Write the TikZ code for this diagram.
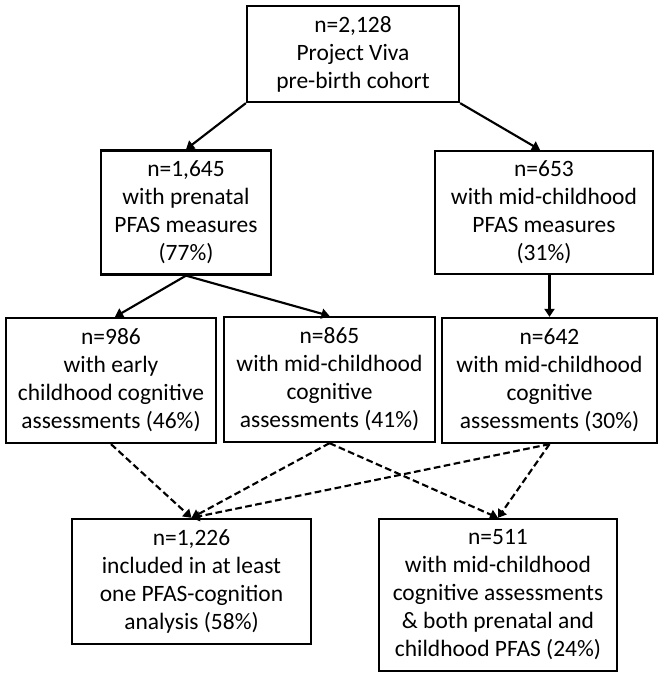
\documentclass[tikz,border=0pt]{standalone}
\usepackage{fontspec}
\setmainfont{Carlito}
\usetikzlibrary{arrows.meta,calc}
\tikzset{
  box/.style={draw=black, line width=1.7pt, inner sep=0pt, align=center,
    font=\fontsize{17.6}{21}\selectfont},
  solidarrow/.style={line width=1.6pt, -{Triangle[length=6pt,width=7.5pt]}},
  dasharrow/.style={line width=1.6pt, dash pattern=on 5pt off 2.6pt, -{Triangle[length=6pt,width=7.5pt]}}
}
\begin{document}
\begin{tikzpicture}[x=0.75pt,y=-0.75pt]
\useasboundingbox[fill=white] (0,0) rectangle (663,678);
\node[box, minimum width=159pt, minimum height=72pt] (A) at (353,54)
  {n=2,128\\Project Viva\\pre-birth cohort};
\node[box, minimum width=127.5pt, minimum height=93pt] (B) at (186,212.5)
  {n=1,645\\with prenatal\\PFAS measures\\(77\%)};
\node[box, minimum width=163.5pt, minimum height=92.25pt] (C) at (544,212.5)
  {n=653\\with mid-childhood\\PFAS measures\\(31\%)};
\node[box, minimum width=157.5pt, minimum height=93.75pt] (D) at (111,380.5)
  {n=986\\with early\\childhood cognitive\\assessments (46\%)};
\node[box, minimum width=158.25pt, minimum height=93.75pt] (E) at (329.5,379.5)
  {n=865\\with mid-childhood\\cognitive\\assessments (41\%)};
\node[box, minimum width=161.25pt, minimum height=93.75pt] (F) at (549.5,380.5)
  {n=642\\with mid-childhood\\cognitive\\assessments (30\%)};
\node[box, minimum width=179.25pt, minimum height=93.75pt] (G) at (191.5,581.5)
  {n=1,226\\included in at least\\one PFAS-cognition\\analysis (58\%)};
\node[box, minimum width=178.5pt, minimum height=114pt] (H) at (498,595)
  {n=511\\with mid-childhood\\cognitive assessments\\\& both prenatal and\\childhood PFAS (24\%)};
\draw[solidarrow] (A.south west) -- (B.north);
\draw[solidarrow] (A.south east) -- ($(C.north)+(-4,0)$);
\draw[solidarrow] (B.south) -- ($(D.north)+(4,0)$);
\draw[solidarrow] (B.south) -- (E.north);
\draw[solidarrow] (F.north |- C.south) -- (F.north);
\draw[dasharrow] (D.south) -- (G.north);
\draw[dasharrow] (E.south) -- (G.north);
\draw[dasharrow] (F.south) -- (G.north);
\draw[dasharrow] (E.south) -- (H.north);
\draw[dasharrow] (F.south) -- (H.north);
\end{tikzpicture}
\end{document}
